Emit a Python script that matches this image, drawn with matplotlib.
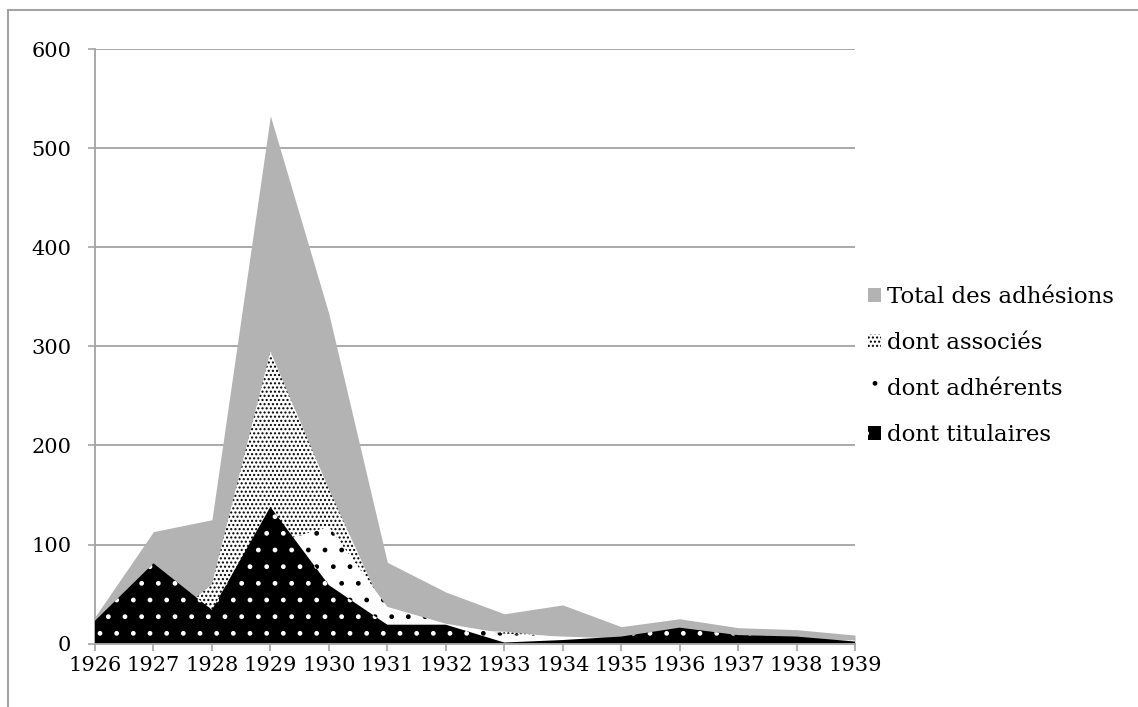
import matplotlib
matplotlib.use("Agg")
import matplotlib.pyplot as plt
from matplotlib.patches import Rectangle
import numpy as np

years = [1926, 1927, 1928, 1929, 1930, 1931, 1932, 1933, 1934, 1935, 1936, 1937, 1938, 1939]
total = [27, 113, 125, 533, 333, 82, 52, 30, 39, 17, 25, 16, 14, 8.5]
associes = [2, 10, 60, 295, 156, 26, 13, 12, 6, 4, 4, 3, 3, 3]
adherents = [2, 22, 30, 100, 118, 37, 20, 10, 7, 5, 5, 4, 4, 3]
titulaires = [23, 81, 34, 138, 59, 19, 19, 1, 3.5, 7, 16, 8.5, 7, 2]

labels = ["Total des adhésions", "dont associés", "dont adhérents", "dont titulaires"]

plt.rcParams['font.family'] = ['DejaVu Serif']
plt.rcParams['hatch.linewidth'] = 1.0

grid_col = '#a3a3a3'

fig = plt.figure(figsize=(11.38, 7.07), dpi=100)
ax = fig.add_axes([95 / 1138, 1 - 643.5 / 707, (855 - 95) / 1138, (643.5 - 49.5) / 707])

x = np.array(years)
ax.fill_between(x, 0, total, facecolor='#b3b3b3', edgecolor='#b3b3b3', linewidth=0, label=labels[0], zorder=2)
ax.fill_between(x, 0, associes, facecolor='white', edgecolor='black', hatch='....', linewidth=0, label=labels[1], zorder=3)
ax.fill_between(x, 0, adherents, facecolor='white', edgecolor='black', hatch='.', linewidth=0, label=labels[2], zorder=4)
ax.fill_between(x, 0, titulaires, facecolor='black', edgecolor='white', hatch='.', linewidth=0, label=labels[3], zorder=5)

ax.set_xlim(1926, 1939)
ax.set_ylim(0, 600)
ax.set_xticks(years)
ax.set_yticks(range(0, 601, 100))
ax.tick_params(axis='both', labelsize=15, colors=grid_col, labelcolor='black', width=1.2)
ax.tick_params(axis='y', length=5, pad=12)
ax.tick_params(axis='x', length=5, pad=4)

ax.set_axisbelow(True)
ax.yaxis.grid(True, color=grid_col, linewidth=1.3)
for side in ['top', 'right']:
    ax.spines[side].set_visible(False)
for side in ['left', 'bottom']:
    ax.spines[side].set_color(grid_col)
    ax.spines[side].set_linewidth(1.3)
ax.spines['bottom'].set_zorder(6)

leg = ax.legend(loc='center left', bbox_to_anchor=(868 / 1138, 1 - 366 / 707),
                bbox_transform=fig.transFigure, frameon=False, fontsize=16.5,
                borderpad=0, borderaxespad=0, handlelength=0.55, handleheight=0.55,
                handletextpad=0.3, labelspacing=1.05)

# cadre gris autour du graphique
fig.patches.append(Rectangle((8 / 1138, -0.1), 2, 1.1 - 10 / 707, transform=fig.transFigure,
                             fill=False, edgecolor=grid_col, linewidth=1.5))

fig.savefig("out.png", dpi=100)
